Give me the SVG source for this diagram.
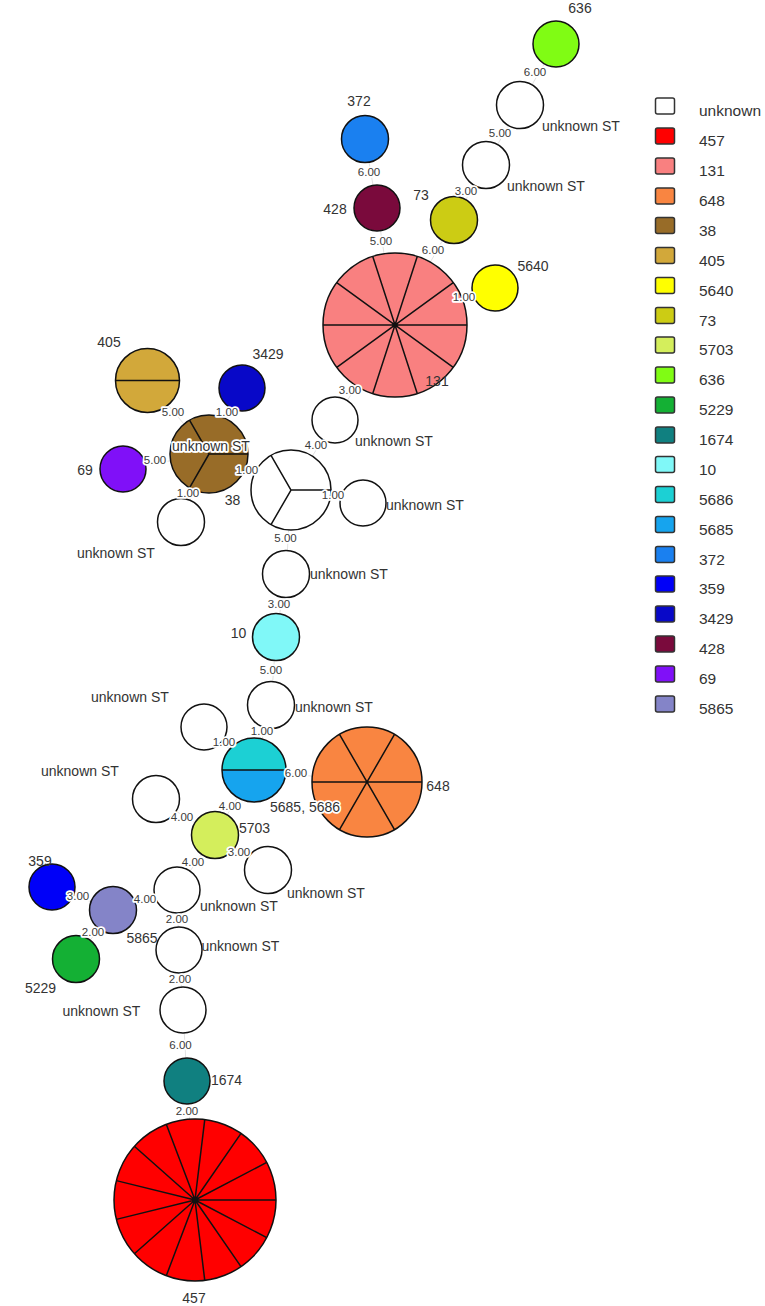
<svg xmlns="http://www.w3.org/2000/svg" width="765" height="1306" viewBox="0 0 765 1306">
<style>
.n{stroke:#111;stroke-width:1.5}
.sp{stroke:#111;stroke-width:1.5;fill:none}
.edge{stroke:#e2e2e2;stroke-width:1}
.lbl{font-family:"Liberation Sans",Arial,sans-serif;font-size:14px;fill:#333}
.halo{stroke:#fff;stroke-width:3.5;paint-order:stroke;stroke-linejoin:round}
.el{font-family:"Liberation Sans",Arial,sans-serif;font-size:11.5px;fill:#3a3a3a;stroke:#fff;stroke-width:3.5;paint-order:stroke;stroke-linejoin:round;text-anchor:middle}
.lg{font-family:"Liberation Sans",Arial,sans-serif;font-size:15.5px;fill:#333}
.sq{stroke:#333;stroke-width:1.5}
.m{text-anchor:middle}
.w{fill:#fff}
</style>
<rect width="765" height="1306" fill="#fff"/>

<g id="connectors">
<line class="edge" x1="556" y1="44" x2="520" y2="105"/>
<line class="edge" x1="520" y1="105" x2="486" y2="165"/>
<line class="edge" x1="486" y1="165" x2="454" y2="220"/>
<line class="edge" x1="454" y1="220" x2="395" y2="325"/>
<line class="edge" x1="377" y1="208" x2="395" y2="325"/>
<line class="edge" x1="365" y1="139" x2="377" y2="208"/>
<line class="edge" x1="495" y1="288" x2="395" y2="325"/>
<line class="edge" x1="395" y1="325" x2="335" y2="420"/>
<line class="edge" x1="335" y1="420" x2="291" y2="490"/>
<line class="edge" x1="291" y1="490" x2="363" y2="503"/>
<line class="edge" x1="291" y1="490" x2="209" y2="454"/>
<line class="edge" x1="209" y1="454" x2="147.5" y2="380.5"/>
<line class="edge" x1="209" y1="454" x2="242" y2="388"/>
<line class="edge" x1="209" y1="454" x2="123" y2="469"/>
<line class="edge" x1="209" y1="454" x2="181" y2="522"/>
<line class="edge" x1="291" y1="490" x2="286" y2="574"/>
<line class="edge" x1="286" y1="574" x2="276" y2="637"/>
<line class="edge" x1="276" y1="637" x2="271" y2="705"/>
<line class="edge" x1="271" y1="705" x2="254" y2="770"/>
<line class="edge" x1="204" y1="727" x2="254" y2="770"/>
<line class="edge" x1="254" y1="770" x2="367" y2="782"/>
<line class="edge" x1="254" y1="770" x2="215" y2="835"/>
<line class="edge" x1="215" y1="835" x2="156" y2="799"/>
<line class="edge" x1="215" y1="835" x2="268" y2="870"/>
<line class="edge" x1="215" y1="835" x2="177" y2="890"/>
<line class="edge" x1="177" y1="890" x2="113" y2="910"/>
<line class="edge" x1="113" y1="910" x2="52" y2="887"/>
<line class="edge" x1="113" y1="910" x2="76" y2="959"/>
<line class="edge" x1="177" y1="890" x2="179" y2="950"/>
<line class="edge" x1="179" y1="950" x2="183" y2="1010"/>
<line class="edge" x1="183" y1="1010" x2="187" y2="1081"/>
<line class="edge" x1="187" y1="1081" x2="195" y2="1200"/>
</g>

<g id="node-636"><circle class="n" cx="556" cy="44" r="23" fill="#80fc14"/><text class="lbl m" x="580" y="13">636</text></g>
<g id="node-u1"><circle class="n w" cx="520" cy="105" r="23.5"/><text class="lbl" x="542" y="131">unknown ST</text></g>
<g id="node-u2"><circle class="n w" cx="486" cy="165" r="23.5"/><text class="lbl" x="507" y="191">unknown ST</text></g>
<g id="node-73"><circle class="n" cx="454" cy="220" r="23.5" fill="#cccc14"/><text class="lbl m" x="421" y="199.5">73</text></g>
<g id="node-372"><circle class="n" cx="365" cy="139" r="23.5" fill="#1a80f0"/><text class="lbl m" x="359" y="106">372</text></g>
<g id="node-428"><circle class="n" cx="377" cy="208" r="23" fill="#7a0a3c"/><text class="lbl m" x="335" y="214">428</text></g>
<g id="node-5640"><circle class="n" cx="495" cy="288" r="23" fill="#ffff00"/><text class="lbl m" x="533" y="271">5640</text></g>
<g id="node-131">
<circle cx="395" cy="325" r="72" fill="#f98080"/>
<path class="sp" d="M467,325 L323,325 M453.25,367.32 L336.75,282.68 M417.25,393.48 L372.75,256.52 M372.75,393.48 L417.25,256.52 M336.75,367.32 L453.25,282.68"/>
<circle class="n" cx="395" cy="325" r="72" fill="none"/>
<circle cx="395" cy="325" r="2.5" fill="#111"/>
<text class="lbl m" x="437" y="386">131</text>
</g>
<g id="node-u3"><circle class="n w" cx="335" cy="420" r="23"/><text class="lbl" x="355" y="446">unknown ST</text></g>
<g id="node-u-center">
<circle class="n w" cx="291" cy="490" r="40"/>
<path class="sp" d="M291,490 L331,490 M291,490 L271,455.36 M291,490 L271,524.64"/>
</g>
<g id="node-u4"><circle class="n w" cx="363" cy="503" r="23"/><text class="lbl" x="386" y="510">unknown ST</text></g>
<g id="node-405">
<circle class="n" cx="147.5" cy="380.5" r="32" fill="#d2a83a"/>
<line class="sp" x1="115.5" y1="380.5" x2="179.5" y2="380.5"/>
<text class="lbl m" x="109" y="346.5">405</text>
</g>
<g id="node-3429"><circle class="n" cx="242" cy="388" r="23" fill="#0808c8"/><text class="lbl m" x="268" y="358.5">3429</text></g>
<g id="node-69"><circle class="n" cx="123" cy="469" r="23" fill="#8010f8"/><text class="lbl m" x="85" y="475">69</text></g>
<g id="node-38">
<circle class="n" cx="209" cy="454" r="39" fill="#986c28"/>
<path class="sp" d="M209,454 L248,454 M209,454 L189.5,420.23 M209,454 L189.5,487.77"/>
<text class="lbl halo m" x="211" y="450.5">unknown ST</text>
<text class="lbl m" x="232.5" y="505">38</text>
</g>
<g id="node-u5"><circle class="n w" cx="181" cy="522" r="23.5"/><text class="lbl" x="77" y="557.5">unknown ST</text></g>
<g id="node-u6"><circle class="n w" cx="286" cy="574" r="23.5"/><text class="lbl" x="310" y="578.5">unknown ST</text></g>
<g id="node-10"><circle class="n" cx="276" cy="637" r="23.5" fill="#80f8f8"/><text class="lbl m" x="238.5" y="637.5">10</text></g>
<g id="node-u7"><circle class="n w" cx="271" cy="705" r="23.5"/><text class="lbl" x="295" y="712">unknown ST</text></g>
<g id="node-u8"><circle class="n w" cx="204" cy="727" r="23"/><text class="lbl" x="91" y="702">unknown ST</text></g>
<g id="node-648">
<circle cx="367" cy="782" r="55" fill="#f98541"/>
<path class="sp" d="M312,782 L422,782 M394.5,829.63 L339.5,734.37 M339.5,829.63 L394.5,734.37"/>
<circle class="n" cx="367" cy="782" r="55" fill="none"/>
<text class="lbl m" x="438" y="791">648</text>
</g>
<g id="node-5685-5686">
<path d="M222,770 A32,32 0 0 1 286,770 Z" fill="#1cd0d4"/>
<path d="M222,770 A32,32 0 0 0 286,770 Z" fill="#16a4ee"/>
<line class="sp" x1="222" y1="770" x2="286" y2="770"/>
<circle class="n" cx="254" cy="770" r="32" fill="none"/>
<text class="lbl halo" x="270" y="812">5685, 5686</text>
</g>
<g id="node-5703"><circle class="n" cx="215" cy="835" r="23.5" fill="#d4ee5c"/><text class="lbl" x="239" y="832.5">5703</text></g>
<g id="node-u9"><circle class="n w" cx="156" cy="799" r="23.5"/><text class="lbl" x="41" y="776">unknown ST</text></g>
<g id="node-u10"><circle class="n w" cx="268" cy="870" r="23.5"/><text class="lbl" x="287" y="897.5">unknown ST</text></g>
<g id="node-u11"><circle class="n w" cx="177" cy="890" r="23"/><text class="lbl" x="200" y="911">unknown ST</text></g>
<g id="node-5865"><circle class="n" cx="113" cy="910" r="23.5" fill="#8484c8"/><text class="lbl m" x="142" y="942.5">5865</text></g>
<g id="node-359"><circle class="n" cx="52" cy="887" r="23" fill="#0000f8"/><text class="lbl m" x="40" y="866">359</text></g>
<g id="node-5229"><circle class="n" cx="76" cy="959" r="23.5" fill="#14b034"/><text class="lbl m" x="40.5" y="992.5">5229</text></g>
<g id="node-u12"><circle class="n w" cx="179" cy="950" r="23"/><text class="lbl" x="201.5" y="951">unknown ST</text></g>
<g id="node-u13"><circle class="n w" cx="183" cy="1010" r="23"/><text class="lbl" x="62.5" y="1015.5">unknown ST</text></g>
<g id="node-1674"><circle class="n" cx="187" cy="1081" r="23" fill="#108080"/><text class="lbl" x="211" y="1084.5">1674</text></g>
<g id="node-457">
<circle cx="195" cy="1200" r="81" fill="#ff0000"/>
<path class="sp" d="M195,1200 L276,1200 M195,1200 L266.73,1237.64 M195,1200 L241.01,1266.66 M195,1200 L204.76,1280.41 M195,1200 L166.28,1275.74 M195,1200 L134.37,1253.71 M195,1200 L116.36,1219.38 M195,1200 L116.36,1180.62 M195,1200 L134.37,1146.29 M195,1200 L166.28,1124.26 M195,1200 L204.76,1119.59 M195,1200 L241.01,1133.34 M195,1200 L266.73,1162.36"/>
<circle class="n" cx="195" cy="1200" r="81" fill="none"/>
<circle cx="195" cy="1200" r="3" fill="#111"/>
<text class="lbl m" x="194" y="1303">457</text>
</g>

<g id="edge-labels">
<text class="el" x="535" y="76">6.00</text>
<text class="el" x="500" y="137">5.00</text>
<text class="el" x="466" y="195">3.00</text>
<text class="el" x="433" y="254">6.00</text>
<text class="el" x="381" y="245">5.00</text>
<text class="el" x="369" y="176">6.00</text>
<text class="el" x="464" y="301">1.00</text>
<text class="el" x="350" y="394">3.00</text>
<text class="el" x="316" y="449">4.00</text>
<text class="el" x="333" y="499">1.00</text>
<text class="el" x="247" y="474">1.00</text>
<text class="el" x="173" y="416">5.00</text>
<text class="el" x="227" y="416">1.00</text>
<text class="el" x="155" y="464">5.00</text>
<text class="el" x="188" y="497">1.00</text>
<text class="el" x="285.5" y="542">5.00</text>
<text class="el" x="279" y="608">3.00</text>
<text class="el" x="271" y="673.5">5.00</text>
<text class="el" x="262" y="735">1.00</text>
<text class="el" x="224" y="746">1.00</text>
<text class="el" x="296" y="777">6.00</text>
<text class="el" x="230" y="810">4.00</text>
<text class="el" x="182" y="821">4.00</text>
<text class="el" x="239" y="855.5">3.00</text>
<text class="el" x="193" y="866">4.00</text>
<text class="el" x="145" y="902.5">4.00</text>
<text class="el" x="78" y="900">3.00</text>
<text class="el" x="93" y="936">2.00</text>
<text class="el" x="177" y="923">2.00</text>
<text class="el" x="180" y="983">2.00</text>
<text class="el" x="180.5" y="1048.5">6.00</text>
<text class="el" x="187" y="1115">2.00</text>
</g>

<g id="legend">
<rect class="sq" x="655.5" y="98" width="19" height="16" rx="2" fill="#fff"/><text class="lg" x="699" y="116">unknown</text>
<rect class="sq" x="655.5" y="128" width="19" height="16" rx="2" fill="#ff0000"/><text class="lg" x="699" y="146">457</text>
<rect class="sq" x="655.5" y="158" width="19" height="16" rx="2" fill="#f98080"/><text class="lg" x="699" y="176">131</text>
<rect class="sq" x="655.5" y="188" width="19" height="16" rx="2" fill="#f98541"/><text class="lg" x="699" y="206">648</text>
<rect class="sq" x="655.5" y="217.5" width="19" height="16" rx="2" fill="#986c28"/><text class="lg" x="699" y="235.5">38</text>
<rect class="sq" x="655.5" y="247.5" width="19" height="16" rx="2" fill="#d2a83a"/><text class="lg" x="699" y="265.5">405</text>
<rect class="sq" x="655.5" y="277.5" width="19" height="16" rx="2" fill="#ffff00"/><text class="lg" x="699" y="295.5">5640</text>
<rect class="sq" x="655.5" y="307.5" width="19" height="16" rx="2" fill="#cccc14"/><text class="lg" x="699" y="325.5">73</text>
<rect class="sq" x="655.5" y="337" width="19" height="16" rx="2" fill="#d4ee5c"/><text class="lg" x="699" y="355">5703</text>
<rect class="sq" x="655.5" y="367" width="19" height="16" rx="2" fill="#80fc14"/><text class="lg" x="699" y="385">636</text>
<rect class="sq" x="655.5" y="397" width="19" height="16" rx="2" fill="#14b034"/><text class="lg" x="699" y="415">5229</text>
<rect class="sq" x="655.5" y="427" width="19" height="16" rx="2" fill="#108080"/><text class="lg" x="699" y="445">1674</text>
<rect class="sq" x="655.5" y="456.5" width="19" height="16" rx="2" fill="#80f8f8"/><text class="lg" x="699" y="474.5">10</text>
<rect class="sq" x="655.5" y="486.5" width="19" height="16" rx="2" fill="#1cd0d4"/><text class="lg" x="699" y="504.5">5686</text>
<rect class="sq" x="655.5" y="516.5" width="19" height="16" rx="2" fill="#16a4ee"/><text class="lg" x="699" y="534.5">5685</text>
<rect class="sq" x="655.5" y="546.5" width="19" height="16" rx="2" fill="#1a80f0"/><text class="lg" x="699" y="564.5">372</text>
<rect class="sq" x="655.5" y="576" width="19" height="16" rx="2" fill="#0000f8"/><text class="lg" x="699" y="594">359</text>
<rect class="sq" x="655.5" y="606" width="19" height="16" rx="2" fill="#0808c8"/><text class="lg" x="699" y="624">3429</text>
<rect class="sq" x="655.5" y="636" width="19" height="16" rx="2" fill="#7a0a3c"/><text class="lg" x="699" y="654">428</text>
<rect class="sq" x="655.5" y="666" width="19" height="16" rx="2" fill="#8010f8"/><text class="lg" x="699" y="684">69</text>
<rect class="sq" x="655.5" y="696" width="19" height="16" rx="2" fill="#8484c8"/><text class="lg" x="699" y="714">5865</text>
</g>
</svg>
